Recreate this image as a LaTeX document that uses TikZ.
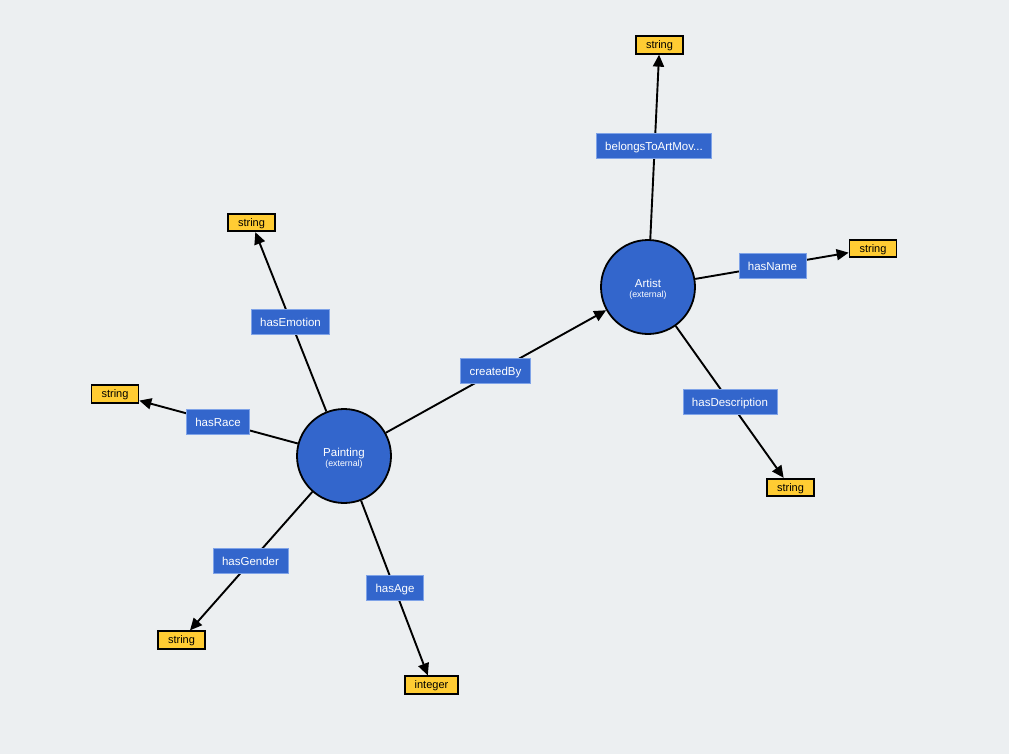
\documentclass[tikz,border=0pt]{standalone}
\usepackage{fontspec}
\setmainfont{Liberation Sans}
\usetikzlibrary{arrows.meta}
\definecolor{bgcol}{HTML}{ECEFF1}
\definecolor{classblue}{HTML}{3366CC}
\definecolor{propborder}{HTML}{7FA3E8}
\definecolor{dtyellow}{HTML}{FFCC33}
\begin{document}
\begin{tikzpicture}[x=1pt,y=-1pt,
  classnode/.style={circle, draw=black, line width=1.8pt, fill=classblue,
    minimum size=94pt, inner sep=0pt},
  classtext/.style={inner sep=0pt, text=white, align=center,
    font=\fontsize{11.5}{12}\selectfont},
  datatype/.style={rectangle, draw=black, line width=1.8pt, fill=dtyellow,
    minimum height=17.5pt, inner xsep=10pt, inner ysep=0pt,
    text height=8.7pt, text depth=1pt,
    font=\fontsize{11}{12}\selectfont},
  propbox/.style={rectangle, draw=propborder, line width=0.8pt, fill=classblue,
    minimum height=25pt, inner xsep=9pt, inner ysep=0pt, text=white,
    text height=10pt, text depth=0.6pt,
    font=\fontsize{11.5}{12}\selectfont},
  link/.style={line width=1.9pt, draw=black,
    -{Triangle[length=12pt,width=11pt]}}]
\fill[bgcol] (0,0) rectangle (1009,754);
\useasboundingbox (0,0) rectangle (1009,754);

% classes
\node[classnode] (painting) at (344,456) {};
\node[classtext] (paintingTxt) at ([yshift=-2pt]painting.center)
  {Painting\\[-2.5pt]{\fontsize{8.8}{9}\selectfont (external)}};
\node[classnode] (artist) at (648,287) {};
\node[classtext] (artistTxt) at ([yshift=-2pt]artist.center)
  {Artist\\[-2.5pt]{\fontsize{8.8}{9}\selectfont (external)}};

% datatypes
\node[datatype] (dtEmotion) at (251.5,222.5) {string};
\node[datatype] (dtRace) at (115,394) {string};
\node[datatype] (dtGender) at (181.5,640) {string};
\node[datatype] (dtAge) at (431.5,685) {integer};
\node[datatype] (dtMovement) at (659.5,45) {string};
\node[datatype] (dtName) at (873,248.5) {string};
\node[datatype] (dtDesc) at (790.5,487.5) {string};

% connectors
\draw[link] (painting) -- (dtEmotion);
\draw[link] (painting) -- (dtRace);
\draw[link] (painting) -- (dtGender);
\draw[link] (painting) -- (dtAge);
\draw[link] (painting) -- (artist);
\draw[link] (artist) -- (dtMovement);
\draw[link] (artist) -- (dtName);
\draw[link] (artist) -- (dtDesc);

% property labels
\node[propbox] (pEmotion) at (290.5,322) {hasEmotion};
\node[propbox] (pRace) at (218,422) {hasRace};
\node[propbox] (pGender) at (250.5,561) {hasGender};
\node[propbox] (pAge) at (395,588) {hasAge};
\node[propbox] (pCreated) at (495.5,371) {createdBy};
\node[propbox] (pMovement) at (654,146) {belongsToArtMov...};
\node[propbox] (pName) at (772.5,266) {hasName};
\node[propbox] (pDesc) at (730,402) {hasDescription};
\end{tikzpicture}
\end{document}
